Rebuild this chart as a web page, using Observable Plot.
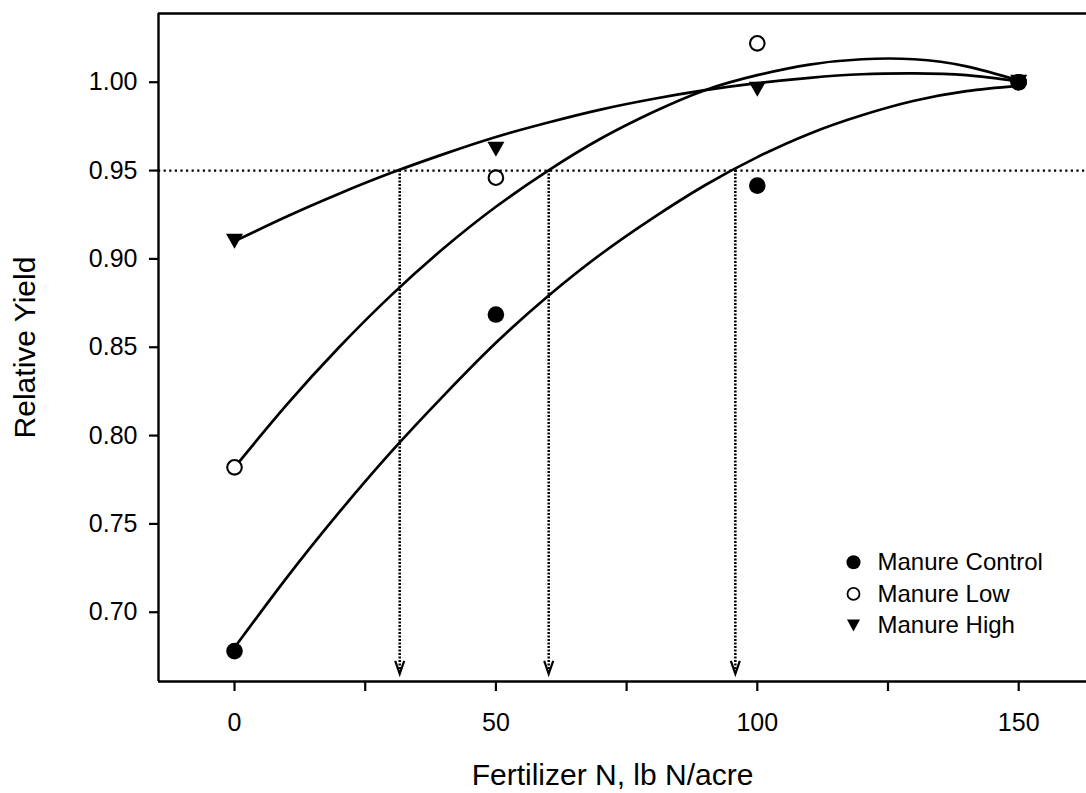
<!DOCTYPE html>
<html>
<head>
<meta charset="utf-8">
<script src="https://cdn.jsdelivr.net/npm/d3@7"></script>
<script src="https://cdn.jsdelivr.net/npm/@observablehq/plot@0.6"></script>
<style>
  html, body { margin: 0; padding: 0; background: #fff; }
  #chart svg { display: block; }
</style>
</head>
<body>
<div id="chart"></div>
<script>
// ---- data ----
const seriesNames = ["Manure Control", "Manure Low", "Manure High"];
const fertN = [0, 50, 100, 150];
const controlYield = [0.678, 0.8685, 0.9415, 1.000];
const lowYield = [0.782, 0.946, 1.022, 1.000];
const highYield = [0.910, 0.962, 0.996, 1.000];

// fitted response curves, every 10 lb N/acre
const curveN = [0, 10, 20, 30, 40, 50, 60, 70, 80, 90, 100, 110, 120, 130, 140, 150];
const controlFit = [0.680, 0.7196, 0.7565, 0.7909, 0.8226, 0.8525, 0.8790, 0.9025, 0.9231, 0.9417, 0.9576, 0.9709, 0.9813, 0.9895, 0.9950, 0.9980];
const lowFit = [0.782, 0.8175, 0.8500, 0.8795, 0.9060, 0.9295, 0.9500, 0.9680, 0.9830, 0.9955, 1.0040, 1.0100, 1.0130, 1.0130, 1.0090, 1.0010];
const highFit = [0.910, 0.9240, 0.9369, 0.9487, 0.9593, 0.9690, 0.9772, 0.9845, 0.9905, 0.9955, 0.9995, 1.0025, 1.0045, 1.0050, 1.0040, 1.0005];

// 95% relative yield threshold and the N rates where each curve reaches it
const targetYield = 0.95;
const thresholdN = [31.6, 60.1, 95.8];
const arrowEndYield = 0.6651;

const xTicks = [0, 25, 50, 75, 100, 125, 150];
const yTicks = [0.70, 0.75, 0.80, 0.85, 0.90, 0.95, 1.00];
const xDomain = [-14.54, 162.97];
const yDomain = [0.6608, 1.0389];

// ---- build tables ----
const pointsOf = (vals, name) => fertN.map((n, i) => ({n, y: vals[i], s: name}));
const curveOf = (vals, name) => curveN.map((n, i) => ({n, y: vals[i], s: name}));
const ctrlPts = pointsOf(controlYield, seriesNames[0]);
const lowPts = pointsOf(lowYield, seriesNames[1]);
const highPts = pointsOf(highYield, seriesNames[2]);
const curves = [curveOf(controlFit, seriesNames[0]), curveOf(lowFit, seriesNames[1]), curveOf(highFit, seriesNames[2])];

// custom symbols
const triDown = (w, h) => ({
  draw(ctx) { ctx.moveTo(-w / 2, -h / 2); ctx.lineTo(w / 2, -h / 2); ctx.lineTo(0, h / 2); ctx.closePath(); }
});
const chevron = {
  draw(ctx) { ctx.moveTo(-4.5, -13); ctx.lineTo(0, 0); ctx.lineTo(4.5, -13); }
};

const font = "'Liberation Sans', Arial, Helvetica, sans-serif";

// legend rows (relative to the frame's bottom-left corner)
const legendDx = 695, legendDy0 = -119.3, legendStep = 31.7, legendTextGap = 24;
const legendMarks = [];
const legendStyles = [
  {symbol: "circle", r: 7, fill: "black", stroke: "none"},
  {symbol: "circle", r: 6, fill: "white", stroke: "black", strokeWidth: 1.8},
  {symbol: triDown(13, 12), r: 6, fill: "black", stroke: "none"}
];
seriesNames.forEach((name, i) => {
  const dy = legendDy0 + i * legendStep;
  legendMarks.push(Plot.dot([name], {frameAnchor: "bottom-left", dx: legendDx, dy, ...legendStyles[i]}));
  legendMarks.push(Plot.text([name], {frameAnchor: "bottom-left", dx: legendDx + legendTextGap, dy, text: d => d,
    textAnchor: "start", lineAnchor: "middle", fontSize: 24, fill: "black"}));
});

const chart = Plot.plot({
  width: 1086,
  height: 793,
  marginLeft: 158,
  marginRight: 0,
  marginTop: 13,
  marginBottom: 112,
  style: {fontFamily: font, fontSize: "25px", color: "black", background: "white", overflow: "visible"},
  x: {domain: xDomain},
  y: {domain: yDomain},
  marks: [
    // frame: left, top, bottom
    Plot.ruleX([xDomain[0]], {stroke: "black", strokeWidth: 2.4}),
    Plot.ruleY([yDomain[1]], {stroke: "black", strokeWidth: 2.4}),
    Plot.ruleY([yDomain[0]], {stroke: "black", strokeWidth: 2.4}),
    // axes
    Plot.axisY(yTicks, {tickFormat: d3.format(".2f"), tickSize: 9, tickPadding: 12, fontSize: 25, strokeWidth: 2.2, label: null}),
    Plot.axisX(xTicks, {tickFormat: d => d % 50 === 0 ? String(d) : "", tickSize: 10, tickPadding: 22, fontSize: 25, strokeWidth: 2.2, label: null}),
    Plot.text(["Relative Yield"], {frameAnchor: "left", dx: -133, rotate: -90, text: d => d, fontSize: 30, fill: "black", textAnchor: "middle", lineAnchor: "middle"}),
    Plot.text(["Fertilizer N, lb N/acre"], {frameAnchor: "bottom", dx: -10, dy: 94, text: d => d, fontSize: 30, fill: "black", textAnchor: "middle", lineAnchor: "middle"}),
    // 95% threshold and arrows
    Plot.ruleY([targetYield], {stroke: "black", strokeWidth: 2.3, strokeDasharray: "2.2,3.4"}),
    Plot.ruleX(thresholdN, {y1: targetYield, y2: arrowEndYield, stroke: "black", strokeWidth: 2.5, strokeDasharray: "2,1.5"}),
    Plot.dot(thresholdN, {x: d => d, y: () => arrowEndYield, symbol: chevron, r: 5, fill: "none", stroke: "black", strokeWidth: 2.2}),
    // fitted curves
    ...curves.map(c => Plot.line(c, {x: "n", y: "y", curve: "natural", stroke: "black", strokeWidth: 2.7})),
    // observed points
    Plot.dot(lowPts, {x: "n", y: "y", r: 7.3, fill: "white", stroke: "black", strokeWidth: 2.1}),
    Plot.dot(highPts, {x: "n", y: "y", r: 8, symbol: triDown(17, 15), fill: "black", stroke: "none"}),
    Plot.dot(ctrlPts, {x: "n", y: "y", r: 8.3, fill: "black", stroke: "none"}),
    ...legendMarks
  ]
});
document.getElementById("chart").append(chart);
</script>
</body>
</html>
